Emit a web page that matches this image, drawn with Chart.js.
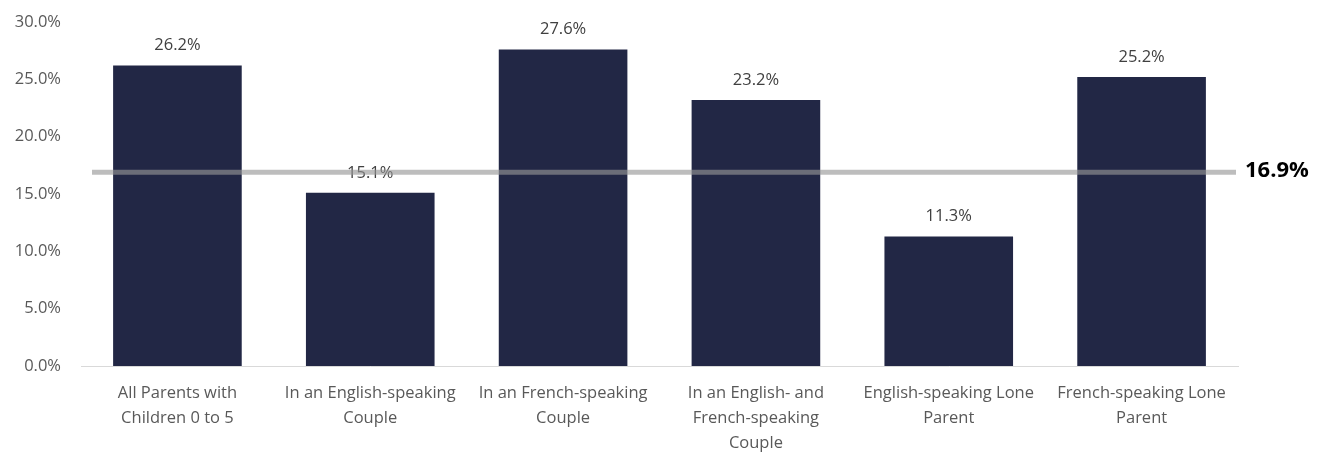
<!DOCTYPE html>
<html>
<head>
<meta charset="utf-8">
<script src="https://cdn.jsdelivr.net/npm/chart.js@4/dist/chart.umd.min.js"></script>
<style>
  html, body { margin: 0; padding: 0; background: #fff; }
  #wrap { width: 1325px; height: 453px; }
</style>
</head>
<body>
<div id="wrap"><canvas id="chart"></canvas></div>
<script>
const categories = [
  ['All Parents with', 'Children 0 to 5'],
  ['In an English-speaking', 'Couple'],
  ['In an French-speaking', 'Couple'],
  ['In an English- and', 'French-speaking', 'Couple'],
  ['English-speaking Lone', 'Parent'],
  ['French-speaking Lone', 'Parent']
]
const shares = [26.2, 15.1, 27.6, 23.2, 11.3, 25.2]
const average = 16.9
const yTicks = [0, 5, 10, 15, 20, 25, 30]

const fontName = "'Open Sans', 'Liberation Sans', sans-serif"

// value labels above bars
const barLabels = {
  id: 'barLabels',
  afterDatasetsDraw(chart) {
    const ctx = chart.ctx
    const meta = chart.getDatasetMeta(0)
    ctx.save()
    ctx.font = '16.5px ' + fontName
    ctx.fillStyle = '#404040'
    ctx.textAlign = 'center'
    ctx.textBaseline = 'middle'
    meta.data.forEach((bar, i) => {
      ctx.fillText(shares[i].toFixed(1) + '%', bar.x, bar.y - 20)
    })
    ctx.restore()
  }
}

// average line drawn over the bars
const averageLine = {
  id: 'averageLine',
  afterDatasetsDraw(chart) {
    const ctx = chart.ctx
    const area = chart.chartArea
    const y = chart.scales.y.getPixelForValue(average)
    ctx.save()
    ctx.strokeStyle = 'rgba(150,150,150,0.63)'
    ctx.lineWidth = 5
    ctx.beginPath()
    ctx.moveTo(area.left + 11, y)
    ctx.lineTo(area.right - 2, y)
    ctx.stroke()
    ctx.font = 'bold 22px ' + fontName
    ctx.fillStyle = '#000'
    ctx.textAlign = 'left'
    ctx.textBaseline = 'middle'
    ctx.fillText(average.toFixed(1) + '%', area.right + 7, y - 1)
    ctx.restore()
  }
}

let chart = new Chart(document.getElementById('chart'), {
  type: 'bar',
  data: {
    labels: categories,
    datasets: [{
      data: shares,
      backgroundColor: '#222745',
      barPercentage: 0.667,
      categoryPercentage: 1
    }]
  },
  options: {
    responsive: true,
    maintainAspectRatio: false,
    animation: { duration: 0 },
    layout: { padding: { top: 22, right: 87, left: 0, bottom: 0 } },
    scales: {
      x: {
        grid: { display: false },
        border: { color: '#d9d9d9', width: 1 },
        ticks: {
          color: '#595959',
          font: { size: 16.5, family: fontName, lineHeight: 1.5 },
          maxRotation: 0,
          autoSkip: false,
          padding: 7
        },
        afterFit(scale) {
          scale.height = 87
          scale.paddingLeft = 0
          scale.paddingRight = 0
        }
      },
      y: {
        min: 0,
        max: 30,
        afterBuildTicks(scale) { scale.ticks = yTicks.map(v => ({ value: v })) },
        grid: { display: false },
        border: { display: false },
        ticks: {
          color: '#595959',
          font: { size: 16.5, family: fontName },
          padding: 12,
          callback: v => v.toFixed(1) + '%'
        },
        afterFit(scale) {
          scale.width = 81
          scale.paddingTop = 0
          scale.paddingBottom = 0
        }
      }
    },
    plugins: {
      legend: { display: false },
      tooltip: { enabled: false }
    }
  },
  plugins: [barLabels, averageLine]
})
</script>
</body>
</html>
